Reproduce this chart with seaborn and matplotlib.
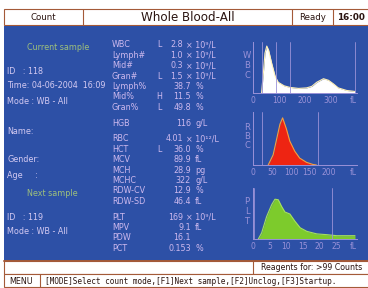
import numpy as np
import pandas as pd
import matplotlib
matplotlib.use("Agg")
import matplotlib.pyplot as plt
import seaborn as sns
from matplotlib.patches import Rectangle

# --- result table -------------------------------------------------------
params = ["WBC", "Lymph#", "Mid#", "Gran#", "Lymph%", "Mid%", "Gran%",
          "HGB",
          "RBC", "HCT", "MCV", "MCH", "MCHC", "RDW-CV", "RDW-SD",
          "PLT", "MPV", "PDW", "PCT"]
flags = ["L", "", "", "L", "", "H", "L",
         "",
         "", "L", "", "", "", "", "",
         "", "", "", ""]
values = ["2.8", "1.0", "0.3", "1.5", "38.7", "11.5", "49.8",
          "116",
          "4.01", "36.0", "89.9", "28.9", "322", "12.9", "46.4",
          "169", "9.1", "16.1", "0.153"]
units = ["× 10⁹/L", "× 10⁹/L", "× 10⁹/L", "× 10⁹/L", "%", "%", "%",
         "g/L",
         "× 10¹²/L", "%", "fL", "pg", "g/L", "%", "fL",
         "× 10⁹/L", "fL", "", "%"]
groups = [0] * 7 + [1] + [2] * 7 + [3] * 4

# --- sample info --------------------------------------------------------
info_text = ["Current sample", "ID   : 118", "Time: 04-06-2004  16:09",
             "Mode : WB - All", "Name:", "Gender:", "Age     :",
             "Next sample", "ID   : 119", "Mode : WB - All"]
info_head = [True, False, False, False, False, False, False,
             True, False, False]

# --- histograms (fL, height in % of frame) -----------------------------
wbc_fl = [33, 40, 46, 53, 60, 72, 85, 97, 120, 142, 175, 206, 226, 245,
          271, 290, 309, 328, 360, 392]
wbc_h = [0, 40, 78, 92, 84, 58, 33, 21, 14, 11, 9, 10, 13, 21,
         28, 25, 18, 10, 5, 3]
wbc_marks = [35, 88, 142, 392]
wbc_ticks = [0, 100, 200, 300]

rbc_fl = [40, 53, 62, 71, 78, 88, 97, 110, 123, 141, 158, 167]
rbc_h = [0, 19, 48, 77, 89, 68, 45, 26, 13, 5, 1, 0]
rbc_marks = [24, 172]
rbc_ticks = [0, 50, 100, 150, 200]

plt_fl = [1.6, 2.6, 4.1, 5.6, 6.6, 7.6, 8.6, 9.6, 11.1, 12.6, 14.2, 16.2,
          19.2, 22.2, 25.2, 28.2, 30.7]
plt_h = [0, 12, 44, 67, 78, 77, 64, 53, 49, 35, 22, 15,
         10, 8.5, 6.5, 6.5, 6.5]
plt_marks = [0.3, 23.7]
plt_ticks = [0, 5, 10, 15, 20, 25]

# --- style --------------------------------------------------------------
BLUE = "#2D50A6"
LABEL = "#CDB9EE"
INFO = "#D4CAF2"
HEAD = "#9EC07C"
AXIS = "#9A92D8"
BROWN = "#A45A38"
DARK = "#2A1410"

sns.set_theme(style="white")
plt.rcParams["font.family"] = ["DejaVu Sans"]

W, H = 368, 288
fig = plt.figure(figsize=(W / 100, H / 100), dpi=100, facecolor="white")
bg = fig.add_axes([0, 0, 1, 1])
bg.set_xlim(0, W)
bg.set_ylim(H, 0)
bg.axis("off")

# title bar
bg.add_patch(Rectangle((4, 9), 366, 16, facecolor="white", edgecolor=BROWN, lw=0.8))
for xd in [83, 292, 333]:
    bg.plot([xd, xd], [9, 25], color=BROWN, lw=0.8)
bg.text(43, 17.5, "Count", ha="center", va="center", fontsize=6.2, color=DARK)
bg.text(188, 17.5, "Whole Blood-All", ha="center", va="center", fontsize=8.6, color=DARK)
bg.text(313, 17.5, "Ready", ha="center", va="center", fontsize=6.2, color=DARK)
bg.text(351, 17.5, "16:00", ha="center", va="center", fontsize=6.4, color=DARK,
        fontweight="bold")

# blue panel
bg.add_patch(Rectangle((4, 26), 366, 235, facecolor=BLUE, edgecolor="none"))

# bottom status rows
bg.add_patch(Rectangle((4, 261), 366, 12.5, facecolor="white", edgecolor=BROWN, lw=0.8))
bg.plot([4, 370], [261, 261], color=BROWN, lw=1.4)
bg.plot([253, 253], [261, 273.5], color=BROWN, lw=0.8)
bg.text(261, 267.5, "Reagents for: >99 Counts", ha="left", va="center",
        fontsize=5.7, color=DARK)
bg.add_patch(Rectangle((4, 274), 366, 13, facecolor="white", edgecolor=BROWN, lw=0.8))
bg.plot([39.5, 39.5], [274, 287], color=BROWN, lw=0.8)
bg.text(21.5, 281, "MENU", ha="center", va="center", fontsize=5.8, color=DARK)
bg.text(45, 281, "[MODE]Select count mode,[F1]Next sample,[F2]Unclog,[F3]Startup.",
        ha="left", va="center", fontsize=5.6, color=DARK, family="DejaVu Sans Mono")

# sample info column
info_y = [47, 72, 86, 101, 131, 160, 175, 194, 218, 231]
for txt, head, yy in zip(info_text, info_head, info_y):
    bg.text(27 if head else 7, yy, txt, ha="left", va="center", fontsize=5.8,
            color=HEAD if head else INFO)

# parameter rows
for i, (p, f, v, u, g) in enumerate(zip(params, flags, values, units, groups)):
    yy = 44.7 + 10.45 * i + 5.2 * g
    times = u.startswith("×")
    bg.text(112, yy, p, ha="left", va="center", fontsize=5.8, color=LABEL)
    if f:
        bg.text(159, yy, f, ha="center", va="center", fontsize=5.8, color=LABEL)
    bg.text(183 if times else 191, yy, v, ha="right", va="center", fontsize=5.8, color=LABEL)
    if u:
        bg.text(186 if times else 195, yy, u, ha="left", va="center", fontsize=5.8,
                color=LABEL)


def histogram(top, bottom, fl, h, marks, ticks, xmax, fl_pos, letters, fill, edge):
    ax = fig.add_axes([253 / W, 1 - bottom / H, 104 / W, (bottom - top) / H])
    ax.set_facecolor("none")
    ax.fill_between(fl, h, color=fill, lw=0, zorder=2)
    sns.lineplot(x=fl, y=h, ax=ax, color=edge, lw=0.8, zorder=3)
    for m in marks:
        ax.axvline(m, color=AXIS, lw=0.6, zorder=4)
    ax.set_xlim(0, xmax)
    ax.set_ylim(0, 100)
    ax.set_xticks(ticks + [fl_pos])
    ax.set_xticklabels([str(t) for t in ticks] + ["fL"])
    ax.set_yticks([])
    ax.tick_params(length=0, pad=2.5, labelsize=5.5, colors=AXIS)
    for s in ["top", "right"]:
        ax.spines[s].set_visible(False)
    for s in ["left", "bottom"]:
        ax.spines[s].set_color(AXIS)
        ax.spines[s].set_linewidth(0.7)
    mid = (top + bottom) / 2
    for k, ch in enumerate(letters):
        bg.text(247, mid - 2 + (k - 1) * 9.5, ch, ha="center", va="center",
                fontsize=6, color=AXIS)
    return ax


histogram(42, 93, wbc_fl, wbc_h, wbc_marks, wbc_ticks, 400, 385, "WBC",
          "#FFFFFF", "#FFF1B8")
histogram(112, 165, rbc_fl, rbc_h, rbc_marks, rbc_ticks, 274, 263, "RBC",
          "#EE2412", "#F2A040")
histogram(188, 239, plt_fl, plt_h, plt_marks, plt_ticks, 31.3, 30.1, "PLT",
          "#7DCB2C", "#A6E060")

fig.savefig("out.png", dpi=100, facecolor="white")
